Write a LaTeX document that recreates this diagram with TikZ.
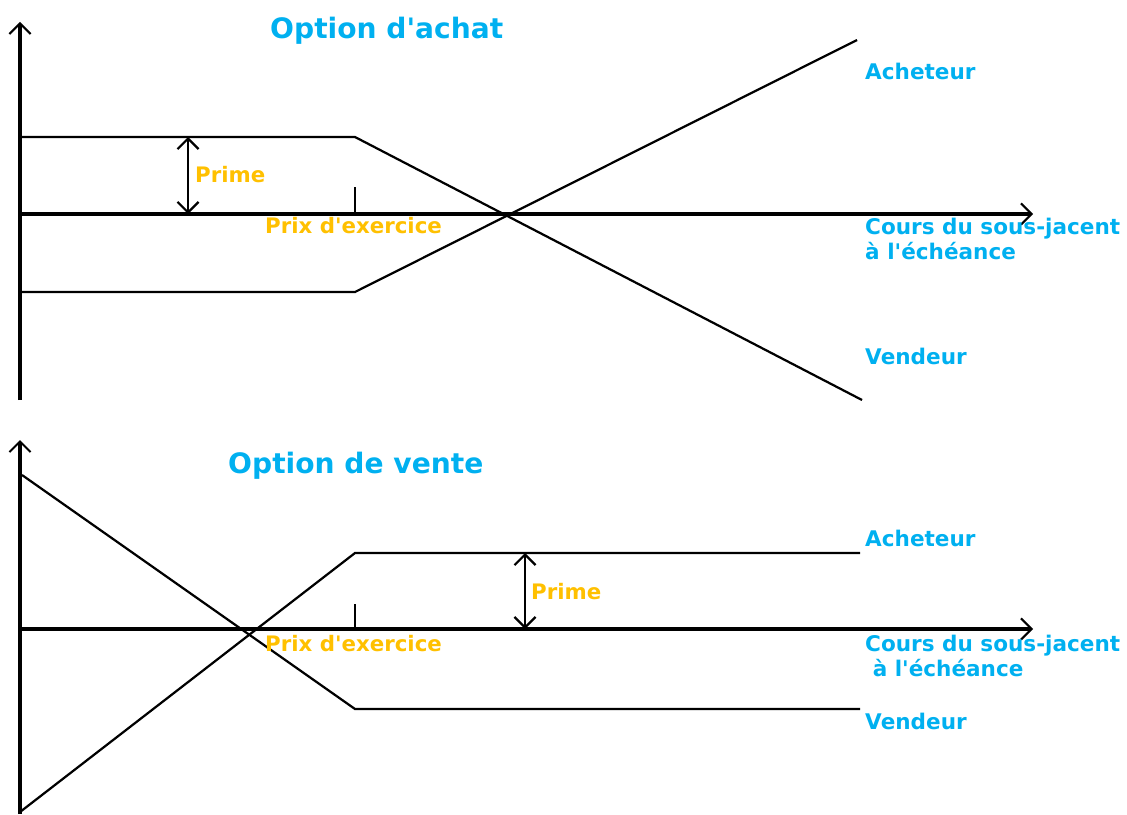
\documentclass[tikz,border=0pt]{standalone}
\usepackage{fontspec}
\setsansfont{DejaVu Sans}
\usetikzlibrary{arrows.meta}
\definecolor{bleutitre}{RGB}{0,176,240}
\definecolor{orprime}{RGB}{255,192,0}

\tikzset{
	axe/.style={line width=3pt,-{Straight Barb[length=9pt,width=18pt,line width=1.8pt]}},
	courbe/.style={line width=1.9pt},
	prime/.style={line width=1.9pt,{Straight Barb[length=9pt,width=18pt]}-{Straight Barb[length=9pt,width=18pt]}},
	etiquette/.style={text=bleutitre,font=\sffamily\bfseries\fontsize{18.4}{22}\selectfont,anchor=west,inner sep=0pt,align=left},
	titre/.style={text=bleutitre,font=\sffamily\bfseries\fontsize{24}{28}\selectfont,anchor=west,inner sep=0pt},
	jaune/.style={text=orprime,font=\sffamily\bfseries\fontsize{18.2}{22}\selectfont,anchor=west,inner sep=0pt}
}

\begin{document}
\begin{tikzpicture}[x=0.03cm,y=-0.03cm]
\useasboundingbox (0,0) rectangle (1127,814);

% OPTION D'ACHAT

\coordinate (a0) at (20,400);
\coordinate (ay) at (20,22);
\coordinate (ax0) at (20,214);
\coordinate (ax) at (1033,214);
\draw[axe] (a0) -- (ay);
\draw[axe] (ax0) -- (ax);

\coordinate (v0) at (20,137);
\coordinate (v1) at (355,137);
\coordinate (v2) at (862,400);
\coordinate (c0) at (20,292);
\coordinate (c1) at (355,292);
\coordinate (c2) at (857,40);
\draw[courbe] (v0) -- (v1) -- (v2);
\draw[courbe] (c0) -- (c1) -- (c2);

\coordinate (k0) at (355,187);
\coordinate (k1) at (355,214);
\draw[courbe] (k0) -- (k1);
\coordinate (p0) at (188,137);
\coordinate (p1) at (188,214);
\draw[prime] (p0) -- (p1);

\node[titre] (tachat) at (270,31) {Option d\textquotesingle achat};
\node[jaune] (pachat) at (195,175) {Prime};
\node[jaune] (kachat) at (265,226) {Prix d\textquotesingle exercice};
\node[etiquette] (acha) at (865,71) {Acheteur};
\node[etiquette] (cours) at (865,239) {Cours du sous-jacent\\à l\textquotesingle échéance};
\node[etiquette] (venda) at (865,356) {Vendeur};

% OPTION DE VENTE

\coordinate (b0) at (20,814);
\coordinate (by) at (20,440);
\coordinate (bx0) at (20,629);
\coordinate (bx) at (1033,629);
\draw[axe] (b0) -- (by);
\draw[axe] (bx0) -- (bx);

\coordinate (w0) at (22,475);
\coordinate (w1) at (355,709);
\coordinate (w2) at (860,709);
\coordinate (d0) at (20,812);
\coordinate (d1) at (355,553);
\coordinate (d2) at (860,553);
\draw[courbe] (w0) -- (w1) -- (w2);
\draw[courbe] (d0) -- (d1) -- (d2);

\coordinate (m0) at (355,604);
\coordinate (m1) at (355,629);
\draw[courbe] (m0) -- (m1);
\coordinate (q0) at (525,553);
\coordinate (q1) at (525,629);
\draw[prime] (q0) -- (q1);

\node[titre] (tvente) at (228,466) {Option de vente};
\node[jaune] (pvente) at (531,592) {Prime};
\node[jaune] (kvente) at (265,644) {Prix d\textquotesingle exercice};
\node[etiquette] (achv) at (865,538) {Acheteur};
\node[etiquette] (coursv) at (865,656) {Cours du sous-jacent\\\ à l\textquotesingle échéance};
\node[etiquette] (vendv) at (865,721) {Vendeur};

\end{tikzpicture}
\end{document}
